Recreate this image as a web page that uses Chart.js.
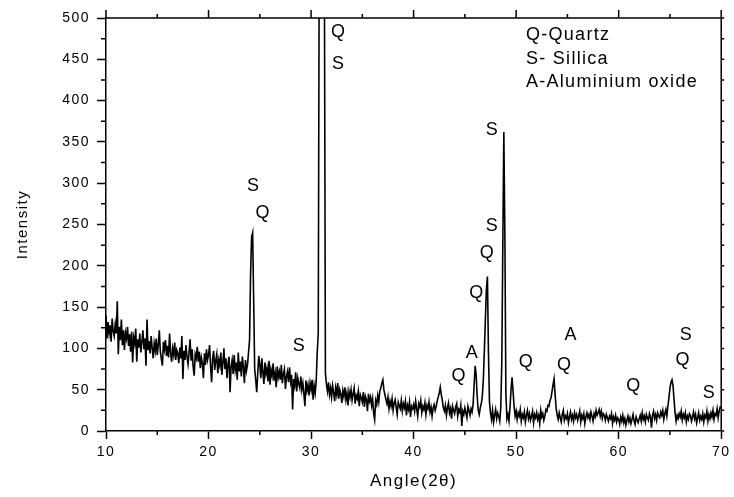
<!DOCTYPE html>
<html>
<head>
<meta charset="utf-8">
<script src="https://cdn.jsdelivr.net/npm/chart.js@4.4.0/dist/chart.umd.min.js"></script>
<style>
  html, body { margin: 0; padding: 0; background: #fff; }
  #wrap { width: 734px; height: 497px; }
</style>
</head>
<body>
<div id="wrap"><canvas id="Chart" width="734" height="497"></canvas></div>
<script>
/** XRD pattern - intensities, one every 0.1 deg (2 theta) from 10 to 70 */

const startAngle = 10;
const angleStep = 0.1;

const counts10to20 = [
    140, 112, 132, 118, 128, 108, 136, 121, 115, 129,
    118, 157, 93, 126, 110, 135, 104, 122, 98, 119,
    112, 126, 103, 117, 96, 120, 83, 113, 106, 124,
    84, 111, 101, 118, 95, 108, 122, 99, 112, 79,
    135, 98, 109, 94, 115, 101, 88, 106, 97, 112,
    92, 104, 122, 96, 87, 79, 108, 99, 110, 91,
    103, 89, 118, 95, 84, 100, 92, 107, 86, 98,
    94, 82, 101, 88, 115, 63, 97, 86, 104, 90,
    81, 95, 111, 85, 99, 78, 67, 93, 88, 102,
    84, 96, 76, 89, 82, 64, 94, 80, 99, 86
];
const counts20to30 = [
    92, 104, 78, 59, 88, 97, 74, 85, 93, 70,
    86, 79, 95, 68, 83, 100, 75, 88, 64, 81,
    90, 47, 78, 86, 69, 92, 74, 83, 62, 95,
    72, 84, 66, 90, 77, 58, 86, 73, 80, 95,
    110, 190, 235, 240, 160, 75, 62, 47, 70, 91,
    80, 64, 88, 71, 57, 83, 69, 76, 60, 85,
    56, 74, 67, 82, 61, 70, 53, 78, 65, 72,
    62, 80, 58, 69, 75, 51, 66, 72, 59, 77,
    60, 68, 26, 63, 55, 71, 48, 64, 57, 52,
    66, 50, 58, 45, 30, 61, 49, 56, 43, 58
];
const counts30to40 = [
    50, 62, 38, 55, 46, 60, 95, 118, 600, 1100,
    1200, 1100, 900, 550, 70, 56, 48, 59, 44, 52,
    41, 55, 47, 36, 52, 44, 58, 39, 50, 45,
    34, 49, 42, 53, 38, 46, 31, 48, 41, 50,
    37, 45, 52, 33, 43, 39, 48, 30, 44, 40,
    35, 47, 29, 42, 38, 24, 45, 36, 41, 31,
    39, 22, 14, 37, 32, 43, 35, 48, 52, 58,
    62, 50, 44, 38, 33, 41, 27, 36, 30, 39,
    25, 34, 38, 29, 20, 35, 31, 27, 37, 24,
    33, 28, 36, 19, 31, 26, 35, 17, 30, 27
];
const counts40to50 = [
    32, 24, 36, 27, 18, 33, 29, 37, 22, 30,
    26, 34, 20, 31, 27, 35, 23, 29, 18, 28,
    32, 25, 30, 36, 41, 46, 53, 44, 37, 28,
    24, 31, 19, 28, 34, 22, 27, 15, 30, 25,
    21, 29, 33, 18, 26, 23, 31, 6, 24, 20,
    28, 22, 16, 30, 25, 19, 27, 23, 32, 55,
    79, 68, 42, 25, 20, 28, 33, 42, 62, 97,
    135, 172, 187, 95, 35, 22, 14, 25, 11, 19,
    26, 15, 22, 18, 12, 28, 82, 225, 362, 240,
    45, 15, 20, 12, 28, 50, 65, 48, 30, 18
];
const counts50to60 = [
    24, 14, 22, 18, 26, 12, 20, 16, 23, 11,
    19, 25, 15, 21, 13, 18, 24, 10, 20, 16,
    22, 14, 19, 9, 25, 17, 21, 13, 18, 26,
    24, 31, 30, 37, 40, 48, 56, 63, 44, 28,
    19, 14, 22, 16, 11, 20, 25, 13, 18, 15,
    21, 10, 17, 23, 14, 19, 12, 22, 16, 20,
    13, 18, 24, 11, 19, 15, 21, 9, 17, 22,
    16, 20, 14, 23, 18, 12, 21, 17, 25, 19,
    22, 26, 18, 24, 15, 21, 19, 13, 20, 16,
    12, 18, 15, 21, 9, 17, 13, 19, 11, 16
];
const counts60to70 = [
    14, 8, 17, 12, 19, 10, 15, 7, 13, 18,
    11, 16, 9, 14, 20, 12, 8, 17, 13, 10,
    15, 19, 12, 22, 14, 18, 11, 20, 16, 13,
    21, 17, 4, 19, 24, 15, 20, 13, 22, 18,
    16, 23, 19, 25, 14, 21, 26, 18, 30, 40,
    52, 59, 62, 55, 38, 22, 12, 19, 15, 21,
    17, 24, 13, 20, 16, 22, 11, 18, 14, 21,
    19, 12, 17, 23, 15, 20, 10, 16, 22, 13,
    18, 14, 21, 11, 19, 16, 24, 12, 20, 15,
    22, 17, 25, 14, 21, 19, 27, 16, 24, 29,
    28
];

const xTicks = [10, 20, 30, 40, 50, 60, 70];
const xMinorTicks = [15, 25, 35, 45, 55, 65];
const yTicks = [0, 50, 100, 150, 200, 250, 300, 350, 400, 450, 500];
const yMinorTicks = [25, 75, 125, 175, 225, 275, 325, 375, 425, 475];

// phase letters written next to the peaks (angle, intensity where the letter sits)
const markLetters = ['S', 'Q', 'Q', 'S', 'S', 'S', 'S', 'Q', 'Q', 'A', 'Q', 'Q', 'A', 'Q', 'Q', 'S', 'Q', 'S'];
const markAngles  = [24.34, 25.26, 32.62, 32.62, 28.79, 47.61, 47.61, 47.13, 46.10, 45.67, 44.37, 50.93, 55.31, 54.66, 61.41, 66.54, 66.22, 68.78];
const markHeights = [296, 264, 483, 444, 103, 364, 248, 216, 167, 94, 67, 84, 116, 80, 54, 116, 86, 46];

const phaseKey = ['Q-Quartz', 'S- Sillica', 'A-Aluminium oxide'];
const keyAngle = 50.95;
const keyHeights = [479, 450, 422];

const fontFamily = "'Liberation Sans', Arial, sans-serif";
Chart.defaults.font.family = fontFamily;

const intensities = [].concat(counts10to20, counts20to30, counts30to40, counts40to50, counts50to60, counts60to70);
const points = intensities.map((v, i) => ({ x: +(startAngle + i * angleStep).toFixed(1), y: v }));

const framePlugin = {
    id: 'frame',
    beforeDraw(chart) {
        chart.ctx.letterSpacing = '1.5px';
    },
    afterDraw(chart) {
        const ctx = chart.ctx;
        const { left, right, top, bottom } = chart.chartArea;
        const xs = chart.scales.x;
        const ys = chart.scales.y;
        ctx.save();
        ctx.strokeStyle = '#000';
        ctx.lineWidth = 1.5;
        ctx.beginPath();
        // top and right border
        ctx.moveTo(left, top);
        ctx.lineTo(right, top);
        ctx.lineTo(right, bottom);
        xTicks.forEach(v => {
            const px = xs.getPixelForValue(v);
            ctx.moveTo(px, top);
            ctx.lineTo(px, top - 8);
        });
        xMinorTicks.forEach(v => {
            const px = xs.getPixelForValue(v);
            ctx.moveTo(px, bottom);
            ctx.lineTo(px, bottom + 4);
            ctx.moveTo(px, top);
            ctx.lineTo(px, top - 4);
        });
        yMinorTicks.forEach(v => {
            const py = ys.getPixelForValue(v);
            ctx.moveTo(left, py);
            ctx.lineTo(left - 5, py);
        });
        yTicks.concat(yMinorTicks).forEach(v => {
            const py = ys.getPixelForValue(v);
            ctx.moveTo(right, py);
            ctx.lineTo(right + 3, py);
        });
        ctx.stroke();

        ctx.fillStyle = '#000';
        ctx.textAlign = 'center';
        ctx.textBaseline = 'middle';
        ctx.font = '18px ' + fontFamily;
        ctx.letterSpacing = '0px';
        markLetters.forEach((t, i) => {
            ctx.fillText(t, xs.getPixelForValue(markAngles[i]), ys.getPixelForValue(markHeights[i]));
        });

        ctx.textAlign = 'left';
        ctx.letterSpacing = '1.3px';
        phaseKey.forEach((t, i) => {
            ctx.fillText(t, xs.getPixelForValue(keyAngle), ys.getPixelForValue(keyHeights[i]));
        });
        ctx.restore();
    }
};

const ctx = document.getElementById('Chart').getContext('2d');
const myChart = new Chart(ctx, {
    type: 'line',
    data: {
        datasets: [
            {
                label: 'Intensity',
                data: points,
                borderColor: '#000',
                borderWidth: 1.6,
                pointRadius: 0,
                fill: false,
                tension: 0
            }
        ]
    },
    options: {
        responsive: false,
        animation: false,
        layout: { padding: { top: 18, right: 12, left: 0, bottom: 0 } },
        plugins: {
            legend: { display: false },
            tooltip: { enabled: false }
        },
        scales: {
            x: {
                type: 'linear',
                min: 10,
                max: 70,
                afterFit: s => { s.height = 66; },
                afterBuildTicks: s => { s.ticks = xTicks.map(v => ({ value: v })); },
                ticks: { font: { size: 14 }, color: '#000', padding: 5, maxRotation: 0 },
                grid: { drawOnChartArea: false, tickLength: 8, tickColor: '#000', tickWidth: 1.5 },
                border: { color: '#000', width: 1.5 },
                title: { display: true, text: 'Angle(2θ)', font: { size: 17 }, color: '#000', padding: { top: 0, bottom: 5 } }
            },
            y: {
                min: 0,
                max: 500,
                afterFit: s => { s.width = 106; },
                afterBuildTicks: s => { s.ticks = yTicks.map(v => ({ value: v })); },
                ticks: { font: { size: 14 }, color: '#000', padding: 7 },
                grid: { drawOnChartArea: false, tickLength: 9, tickColor: '#000', tickWidth: 1.5 },
                border: { color: '#000', width: 1.5 },
                title: { display: true, text: 'Intensity', font: { size: 15 }, color: '#000', padding: { top: 14, bottom: 0 } }
            }
        }
    },
    plugins: [framePlugin]
});
</script>
</body>
</html>
